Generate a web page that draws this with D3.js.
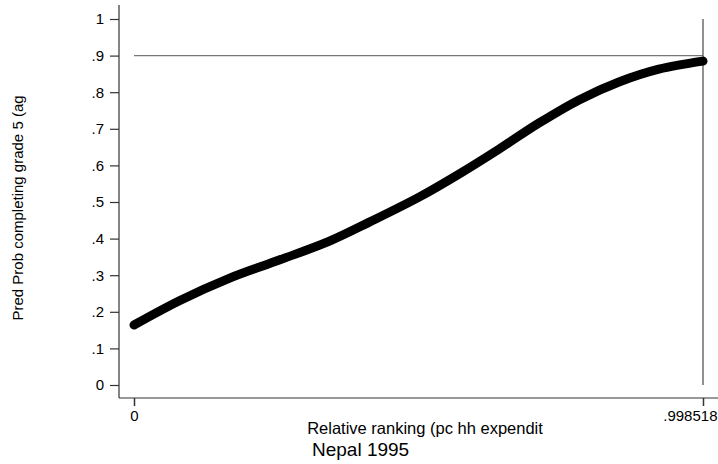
<!DOCTYPE html>
<html>
<head>
<meta charset="utf-8">
<script src="https://cdn.jsdelivr.net/npm/d3@7"></script>
<style>
  body { margin: 0; background: #fff; }
  text { font-family: "Liberation Sans", Arial, sans-serif; fill: #000; }
</style>
</head>
<body>
<svg id="chart" width="718" height="464"></svg>
<script>
// values
var rankX = [0, 0.0806, 0.168, 0.256, 0.343, 0.413, 0.501, 0.571, 0.641, 0.711, 0.781, 0.851, 0.921, 0.998518];
var predProb = [0.164, 0.231, 0.292, 0.342, 0.393, 0.445, 0.514, 0.577, 0.645, 0.716, 0.779, 0.828, 0.863, 0.885];
var yTicks = [0, 0.1, 0.2, 0.3, 0.4, 0.5, 0.6, 0.7, 0.8, 0.9, 1];
var xTicks = [0, 0.998518];
var refY = 0.9;
var refX = 0.998518;

var svg = d3.select('#chart');

var xScale = d3.scaleLinear().domain([0, 0.998518]).range([134, 703]);
var yScale = d3.scaleLinear().domain([0, 1]).range([385, 19]);

var fmt = function(d) {
    if (d === 0) return '0';
    if (d === 1) return '1';
    return String(+d.toFixed(6)).replace(/^0/, '');
};

// axis lines (offset from the plot region)
svg.append('line')
    .attr('x1', 119).attr('x2', 119).attr('y1', 5).attr('y2', 398)
    .attr('stroke', '#333').attr('stroke-width', 1.2);
svg.append('line')
    .attr('x1', 119).attr('x2', 718).attr('y1', 398).attr('y2', 398)
    .attr('stroke', '#333').attr('stroke-width', 1.2);

// y axis
var yG = svg.append('g').attr('transform', 'translate(119,0)')
    .call(d3.axisLeft(yScale).tickValues(yTicks).tickSize(9).tickPadding(6).tickFormat(fmt));
yG.select('.domain').remove();
yG.selectAll('line').attr('stroke', '#333').attr('stroke-width', 1.2);
yG.selectAll('text').style('font-size', '15px').attr('fill', '#000')
    .style('font-family', '"Liberation Sans", Arial, sans-serif');

// x axis
var xG = svg.append('g').attr('transform', 'translate(0,398)')
    .call(d3.axisBottom(xScale).tickValues(xTicks).tickSize(8).tickPadding(4).tickFormat(fmt));
xG.select('.domain').remove();
xG.selectAll('line').attr('stroke', '#333').attr('stroke-width', 1.5);
xG.selectAll('text').style('font-size', '15px').attr('fill', '#000')
    .style('font-family', '"Liberation Sans", Arial, sans-serif');
// keep the last label inside the frame
xG.selectAll('.tick').filter(function(d) { return d === 0.998518; })
    .select('text').attr('text-anchor', 'end').attr('x', 14);

// reference lines
svg.append('line')
    .attr('x1', xScale(0)).attr('x2', xScale(refX))
    .attr('y1', yScale(refY)).attr('y2', yScale(refY))
    .attr('stroke', '#777').attr('stroke-width', 1.3);
svg.append('line')
    .attr('x1', xScale(refX)).attr('x2', xScale(refX))
    .attr('y1', yScale(1)).attr('y2', yScale(0))
    .attr('stroke', '#555').attr('stroke-width', 1.3);

// fitted curve
var line = d3.line()
    .x(function(d, i) { return xScale(rankX[i]); })
    .y(function(d) { return yScale(d); })
    .curve(d3.curveCatmullRom);

svg.append('path')
    .datum(predProb)
    .attr('d', line)
    .attr('fill', 'none')
    .attr('stroke', '#000')
    .attr('stroke-width', 9)
    .attr('stroke-linecap', 'round')
    .attr('stroke-linejoin', 'round');

// titles
svg.append('text')
    .text('Relative ranking (pc hh expendit')
    .attr('x', 425).attr('y', 434)
    .attr('text-anchor', 'middle')
    .style('font-size', '16.5px');

svg.append('text')
    .text('Pred Prob completing grade 5 (ag')
    .attr('transform', 'translate(23,208) rotate(-90)')
    .attr('text-anchor', 'middle')
    .style('font-size', '15px');

svg.append('text')
    .text('Nepal 1995')
    .attr('x', 312).attr('y', 456)
    .style('font-size', '19px');
</script>
</body>
</html>
